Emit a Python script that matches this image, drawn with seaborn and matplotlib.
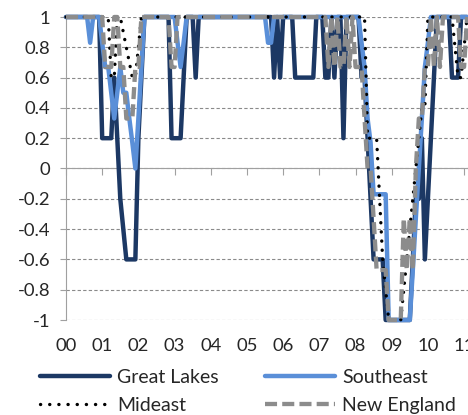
import pandas as pd
import matplotlib.pyplot as plt
import seaborn as sns

# months counted from Jan 2000
gl_month = [0, 11, 12, 15, 16, 17, 18, 20, 23, 24, 25, 26,
            34, 35, 38, 39, 40, 42, 43, 44,
            68, 69, 70, 71, 72, 75, 76, 82, 83, 85, 86, 87, 88, 89, 90, 91, 92, 93,
            97, 98, 99, 100, 101, 102, 105, 106, 114, 115, 116, 117, 118, 119, 120, 121, 122, 123,
            127, 128, 130, 131, 133]
gl_value = [1, 1, 0.2, 0.2, 0.6, 0.2, -0.2, -0.6, -0.6, 0.2, 0.6, 1,
            1, 0.2, 0.2, 0.6, 1, 1, 0.6, 1,
            1, 0.6, 1, 0.6, 1, 1, 0.6, 0.6, 1, 1, 0.6, 0.6, 1, 0.6, 1, 1, 0.2, 1,
            1, 0.6, 0.6, 0.2, -0.2, -0.6, -0.6, -1, -1, -0.6, -0.2, -0.2, 0.2, -0.6, -0.2, 0.2, 0.6, 1,
            1, 0.6, 0.6, 1, 1]

se_month = [0, 7, 8, 9, 11, 12, 13, 14, 15, 16, 17, 18, 19, 20, 21, 22, 23, 24, 25, 26,
            36, 37, 38, 39, 40, 66, 67, 68, 69,
            97, 98, 99, 100, 101, 102, 106, 107, 114, 115, 116, 117, 118, 119, 120, 121, 133]
se_value = [1, 1, 0.83, 1, 1, 0.83, 0.67, 0.67, 0.5, 0.33, 0.5, 0.67, 0.5, 0.5, 0.33, 0.17, 0, 0.33, 0.67, 1,
            1, 0.83, 0.67, 0.83, 1, 1, 0.83, 0.83, 1,
            1, 0.83, 0.67, 0.33, 0.17, -0.17, -0.17, -1, -1, -0.67, -0.33, 0, 0.33, 0.67, 0.83, 1, 1]

me_month = [0, 14, 15, 16, 17, 18, 19, 20, 21, 22, 23, 24, 25,
            99, 100, 103, 104, 105, 106, 107, 111, 112, 113, 114, 115, 116, 117, 118, 119, 120,
            128, 129, 130, 131, 132, 133]
me_value = [1, 1, 0.6, 0.6, 1, 1, 0.9, 0.8, 0.7, 0.6, 0.6, 0.8, 1,
            1, 0.2, 0.2, -0.2, -0.6, -0.8, -1, -1, -0.8, -0.6, -0.4, -0.2, 0, 0.2, 0.4, 0.4, 1,
            1, 0.8, 0.6, 0.6, 0.8, 1]

ne_month = [0, 12, 13, 15, 16, 17, 18, 19, 20, 22, 23, 24, 25,
            34, 35, 36, 37,
            86, 87, 88, 89, 90, 91, 92, 93, 94, 95, 96, 98, 99, 100, 101, 102, 103, 106, 107,
            111, 112, 113, 114, 115, 116, 117, 118, 119, 120, 121, 122, 123, 124, 125,
            130, 131, 132, 133]
ne_value = [1, 1, 0.67, 0.67, 1, 1, 0.67, 0.67, 0.33, 0.33, 0.67, 0.67, 1,
            1, 0.67, 0.67, 1,
            1, 0.67, 1, 0.67, 1, 0.67, 0.67, 1, 0.67, 1, 0.67, 0.67, 0.33, 0, 0, -0.33, -0.67, -0.67, -1,
            -1, -0.33, -0.67, -0.33, -0.67, 0, 0.33, 0.33, 0.67, 0.67, 1, 0.67, 1, 0.67, 1,
            1, 0.67, 0.67, 1]

year_ticks = [0, 12, 24, 36, 48, 60, 72, 84, 96, 108, 120, 132]
year_labels = ['00', '01', '02', '03', '04', '05', '06', '07', '08', '09', '10', '11']
y_ticks = [-1, -0.8, -0.6, -0.4, -0.2, 0, 0.2, 0.4, 0.6, 0.8, 1]
y_labels = ['-1', '-0.8', '-0.6', '-0.4', '-0.2', '0', '0.2', '0.4', '0.6', '0.8', '1']

sns.set_style('white')
plt.rcParams['font.family'] = ['Lato', 'DejaVu Sans']
txt = '#262626'

fig = plt.figure(figsize=(4.68, 4.15), dpi=100)
ax = fig.add_axes([66 / 468, 1 - 320 / 415, (468 - 66) / 468, (320 - 17) / 415])

series = [
    ('Great Lakes', gl_month, gl_value, dict(color='#1c3864', lw=3.2, linestyle='-')),
    ('Southeast', se_month, se_value, dict(color='#5a8fd8', lw=3.2, linestyle='-')),
    ('Mideast', me_month, me_value, dict(color='black', lw=2.4, linestyle=(0, (0.05, 2.7)),
                                         dash_capstyle='round')),
    ('New England', ne_month, ne_value, dict(color='#8c8c8c', lw=3.1, linestyle=(0, (2.8, 1.2)))),
]
handles = {}
for i, (name, months, vals, style) in enumerate(series):
    df = pd.DataFrame({'month': months, 'value': vals})
    sns.lineplot(data=df, x='month', y='value', ax=ax, label=name, clip_on=False,
                 zorder=3 + i, **style)
    handles[name] = ax.get_lines()[-1]
if ax.get_legend() is not None:
    ax.get_legend().remove()

ax.set_xlim(0, 133.3)
ax.set_ylim(-1, 1)
ax.set_xlabel('')
ax.set_ylabel('')

grey = '#a0a0a0'
ax.set_yticks(y_ticks, labels=y_labels)
ax.tick_params(axis='y', left=True, length=4.5, width=0.8, color=grey, pad=7,
               labelsize=13.3, labelcolor=txt)
ax.yaxis.grid(True, linestyle=(0, (3, 2)), color='#8a8a8a', linewidth=0.8)
ax.xaxis.grid(False)

ax.spines['top'].set_visible(False)
ax.spines['right'].set_visible(False)
ax.spines['left'].set_color(grey)
ax.spines['bottom'].set_color(grey)
ax.spines['bottom'].set_position(('data', 0))
ax.set_xticks(year_ticks)
ax.tick_params(axis='x', bottom=True, direction='out', length=5, width=0.8, color=grey,
               labelbottom=False)

sec = ax.secondary_xaxis('bottom')
sec.set_xticks(year_ticks, labels=year_labels)
sec.tick_params(length=0, pad=13, labelsize=13.3, labelcolor=txt)
sec.spines['bottom'].set_visible(False)

order = ['Great Lakes', 'Mideast', 'Southeast', 'New England']
fig.legend([handles[n] for n in order], order, ncol=2, loc='upper left',
           bbox_to_anchor=(40 / 468, 1 - 369 / 415), frameon=False, fontsize=14,
           handlelength=3.6, handletextpad=0.35, columnspacing=2.4, labelspacing=0.55,
           borderpad=0, borderaxespad=0, labelcolor=txt)

fig.savefig('out.png', dpi=100)
